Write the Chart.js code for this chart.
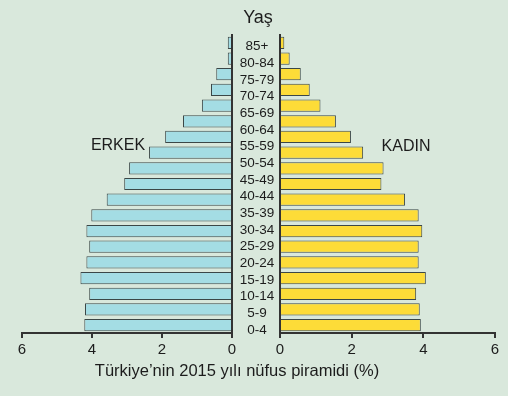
<!DOCTYPE html>
<html>
<head>
<meta charset="utf-8">
<script src="https://cdn.jsdelivr.net/npm/chart.js@4"></script>
<style>
    body { margin: 0; background: #d9e8dc; }
    #wrap { position: relative; width: 508px; height: 396px; font-family: "Liberation Sans", Arial, sans-serif; color: #1c1c1c; }
    #wrap canvas { position: absolute; left: 0; top: 0; }
    .txt { position: absolute; transform: translate(-50%, -50%); white-space: nowrap; }
</style>
</head>
<body>
<div id="wrap">
    <canvas id="male-chart" width="508" height="396"></canvas>
    <canvas id="female-chart" width="508" height="396"></canvas>
    <canvas id="age-chart" width="508" height="396"></canvas>
    <div class="txt" style="left:258px;top:17px;font-size:18px">Yaş</div>
    <div class="txt" style="left:118px;top:145px;font-size:16px">ERKEK</div>
    <div class="txt" style="left:406px;top:146px;font-size:16px">KADIN</div>
    <div class="txt" style="left:237px;top:370px;font-size:16.5px">Türkiye’nin 2015 yılı nüfus piramidi (%)</div>
</div>
<script>
// Age group labels, top to bottom
const ageLabels = ["85+", "80-84", "75-79", "70-74", "65-69", "60-64", "55-59", "50-54", "45-49",
    "40-44", "35-39", "30-34", "25-29", "20-24", "15-19", "10-14", "5-9", "0-4"];

// bar rows as drawn in the picture (19 of them), top to bottom, % of population
const maleValues = [0.12, 0.12, 0.45, 0.60, 0.86, 1.40, 1.91, 2.37, 2.94, 3.08,
    3.58, 4.02, 4.16, 4.08, 4.16, 4.33, 4.08, 4.20, 4.22];
const femaleValues = [0.12, 0.27, 0.58, 0.83, 1.13, 1.56, 1.98, 2.32, 2.89, 2.83,
    3.49, 3.87, 3.97, 3.87, 3.87, 4.07, 3.80, 3.90, 3.93];

const xTicks = [0, 2, 4, 6];

const colors = {
    male: "#a4dde4",
    female: "#fddc38",
    edge: "#3b4747",
    axis: "#333333",
    text: "#1c1c1c",
};

const font = "'Liberation Sans', Arial, sans-serif";
const rowIds = maleValues.map((_, i) => i);

function sideChart(id, values, fill, isLeft) {
    return new Chart(document.getElementById(id), {
        type: "bar",
        data: {
            labels: rowIds,
            datasets: [{
                data: values,
                backgroundColor: fill,
                borderColor: colors.edge,
                borderWidth: 1,
                borderSkipped: "start",
                categoryPercentage: 1,
                barPercentage: 0.78,
            }],
        },
        options: {
            responsive: false,
            animation: false,
            indexAxis: "y",
            layout: {
                padding: isLeft
                    ? { left: 22, right: 276, top: 35, bottom: 34 }
                    : { left: 280, right: 13, top: 35, bottom: 34 },
            },
            plugins: { legend: { display: false }, tooltip: { enabled: false } },
            scales: {
                x: {
                    min: 0,
                    max: 6,
                    reverse: isLeft,
                    afterBuildTicks: s => { s.ticks = xTicks.map(v => ({ value: v })); },
                    grid: { drawOnChartArea: false, drawTicks: true, tickLength: 5, color: colors.axis, lineWidth: 2 },
                    border: { color: colors.axis, width: 2 },
                    ticks: { color: colors.text, font: { family: font, size: 15 }, padding: 3 },
                },
                y: {
                    position: isLeft ? "right" : "left",
                    grid: { display: false, drawTicks: false },
                    border: { color: colors.axis, width: 2 },
                    ticks: { display: false },
                },
            },
        },
    });
}

sideChart("male-chart", maleValues, colors.male, true);
sideChart("female-chart", femaleValues, colors.female, false);

// age labels in the middle column, placed by their own category scale
const ageLabelPlugin = {
    id: "ageLabels",
    afterDraw(chart) {
        const y = chart.scales.y;
        const ctx = chart.ctx;
        ctx.save();
        ctx.fillStyle = colors.text;
        ctx.font = "13.5px " + font;
        ctx.textAlign = "center";
        ctx.textBaseline = "middle";
        ageLabels.forEach((lab, i) => ctx.fillText(lab, 257, y.getPixelForValue(i)));
        ctx.restore();
    },
};

new Chart(document.getElementById("age-chart"), {
    type: "bar",
    data: { labels: ageLabels, datasets: [] },
    options: {
        responsive: false,
        animation: false,
        indexAxis: "y",
        layout: { padding: { left: 232, right: 228, top: 38.3, bottom: 57.7 } },
        plugins: { legend: { display: false }, tooltip: { enabled: false } },
        scales: {
            x: { display: false },
            y: { display: false },
        },
    },
    plugins: [ageLabelPlugin],
});
</script>
</body>
</html>
